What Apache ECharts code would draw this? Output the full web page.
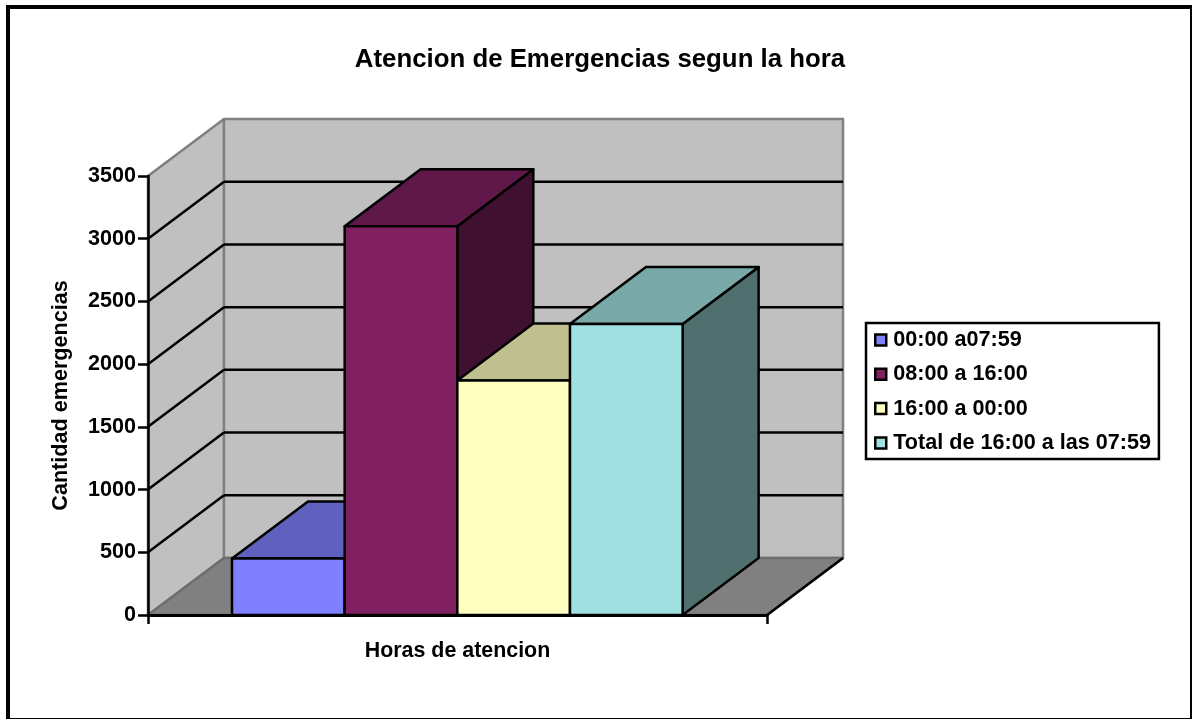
<!DOCTYPE html>
<html>
<head>
<meta charset="utf-8">
<title>Atencion de Emergencias segun la hora</title>
<style>
  html, body { margin: 0; padding: 0; background: #fff; }
  #app { width: 1192px; height: 719px; }
</style>
<script src="https://cdn.jsdelivr.net/npm/echarts@6/dist/echarts.min.js"></script>
</head>
<body>
<div id="app"></div>
<script>
const categorias = [""];
const franjas = ["00:00 a07:59", "08:00 a 16:00", "16:00 a 00:00", "Total de 16:00 a las 07:59"];
const cantidades = [450, 3100, 1870, 2320];
const colores = ["#8080ff", "#802060", "#ffffc0", "#a0e0e0"];
const marcasY = [0, 500, 1000, 1500, 2000, 2500, 3000, 3500];

const FUENTE = '"Liberation Sans", Arial, sans-serif';
// Fake 3D: how far the back plane sits from the front plane, in pixels
const FONDO_X = 76;
const FONDO_Y = -57;
const HUECO = 0.1357; // gap at each side of the band
const ANCHO_BARRA = 0.182;
const TRAZO = 2.5;

function sombra(hex, factor) {
  const n = parseInt(hex.slice(1), 16);
  const c = [n >> 16, (n >> 8) & 255, n & 255].map(v => Math.round(v * factor));
  return `rgb(${c[0]},${c[1]},${c[2]})`;
}

function poligono(points, fill, stroke, lineWidth) {
  return {
    type: "polygon",
    shape: { points },
    style: { fill, stroke, lineWidth, lineJoin: "round" }
  };
}

function linea(a, b, stroke, lineWidth) {
  return {
    type: "line",
    shape: { x1: a[0], y1: a[1], x2: b[0], y2: b[1] },
    style: { stroke, lineWidth }
  };
}

function atras(p) {
  return [p[0] + FONDO_X, p[1] + FONDO_Y];
}

// Side wall, back wall, floor and the gridlines, all from the axis scale
function dibujarParedes(params, api) {
  const caja = params.coordSys;
  const x0 = caja.x;
  const x1 = caja.x + caja.width;
  const y0 = api.coord([0, 0])[1];
  const yTop = api.coord([0, marcasY[marcasY.length - 1]])[1];
  const gris = "#808080";
  const piezas = [
    poligono([[x0, y0], [x0, yTop], atras([x0, yTop]), atras([x0, y0])], "#c0c0c0", gris, TRAZO),
    poligono([atras([x0, y0]), atras([x0, yTop]), atras([x1, yTop]), atras([x1, y0])], "#c0c0c0", gris, TRAZO),
    poligono([[x0, y0], atras([x0, y0]), atras([x1, y0]), [x1, y0]], gris, "#6e6e6e", TRAZO),
    linea([x1, y0], atras([x1, y0]), "#000", TRAZO)
  ];
  marcasY.slice(1, -1).forEach(m => {
    const y = api.coord([0, m])[1];
    piezas.push(linea([x0, y], atras([x0, y]), "#000", TRAZO));
    piezas.push(linea(atras([x0, y]), atras([x1, y]), "#000", TRAZO));
  });
  return { type: "group", children: piezas };
}

function dibujarBarra(indice) {
  return function (params, api) {
    const caja = params.coordSys;
    const ancho = caja.width * ANCHO_BARRA;
    const xa = caja.x + caja.width * HUECO + ancho * indice;
    const xb = xa + ancho;
    const y0 = api.coord([0, 0])[1];
    const yv = api.coord([0, api.value(1)])[1];
    const color = colores[indice];
    return {
      type: "group",
      children: [
        poligono([[xb, y0], [xb, yv], atras([xb, yv]), atras([xb, y0])], sombra(color, 0.5), "#000", TRAZO),
        poligono([[xa, yv], [xb, yv], atras([xb, yv]), atras([xa, yv])], sombra(color, 0.75), "#000", TRAZO),
        poligono([[xa, y0], [xa, yv], [xb, yv], [xb, y0]], color, "#000", TRAZO)
      ]
    };
  };
}

const series = [
  {
    type: "custom",
    name: "paredes",
    silent: true,
    z: 1,
    renderItem: dibujarParedes,
    data: [[0, 0]]
  }
].concat(franjas.map((nombre, i) => ({
  type: "custom",
  name: nombre,
  z: 2 + i,
  itemStyle: { color: colores[i] },
  renderItem: dibujarBarra(i),
  encode: { x: 0, y: 1 },
  data: [[0, cantidades[i]]]
})));

const chart = echarts.init(document.getElementById("app"));
chart.setOption({
  backgroundColor: "#fff",
  animation: false,
  textStyle: { fontFamily: FUENTE },
  title: {
    text: "Atencion de Emergencias segun la hora",
    left: 595,
    top: 42,
    textAlign: "center",
    textStyle: { fontFamily: FUENTE, fontSize: 25.8, fontWeight: "bold", color: "#000" }
  },
  legend: {
    orient: "vertical",
    left: 866,
    top: 323,
    padding: [6, 8, 5, 8],
    itemGap: 12.3,
    itemWidth: 11,
    itemHeight: 11,
    icon: "rect",
    selectedMode: false,
    data: franjas,
    backgroundColor: "#fff",
    borderColor: "#000",
    borderWidth: 2.5,
    itemStyle: { borderColor: "#000", borderWidth: 2.5 },
    textStyle: { fontFamily: FUENTE, fontSize: 21.6, fontWeight: "bold", color: "#000", padding: [0, 0, 0, 2] }
  },
  grid: { left: 148, right: 425, top: 176, bottom: 104, containLabel: false },
  xAxis: {
    type: "category",
    data: categorias,
    z: 20,
    name: "Horas de atencion",
    nameLocation: "middle",
    nameGap: 26,
    nameTextStyle: { fontFamily: FUENTE, fontSize: 21.4, fontWeight: "bold", color: "#000" },
    axisLine: { lineStyle: { color: "#000", width: 3 } },
    axisTick: { show: true, length: 9, lineStyle: { color: "#000", width: 2.5 } },
    axisLabel: { show: false },
    splitLine: { show: false }
  },
  yAxis: {
    type: "value",
    min: 0,
    max: 3500,
    interval: 500,
    z: 20,
    name: "Cantidad emergencias",
    nameLocation: "middle",
    nameGap: 76,
    nameTextStyle: { fontFamily: FUENTE, fontSize: 21.6, fontWeight: "bold", color: "#000" },
    axisLine: { show: true, lineStyle: { color: "#000", width: 2.5 } },
    axisTick: { show: true, length: 10, lineStyle: { color: "#000", width: 2.5 } },
    axisLabel: {
      margin: 12,
      fontFamily: FUENTE,
      fontSize: 21.6,
      fontWeight: "bold",
      color: "#000",
      formatter: value => String(value)
    },
    splitLine: { show: false }
  },
  graphic: [
    {
      type: "rect",
      silent: true,
      z: 100,
      shape: { x: 8, y: 7, width: 1184, height: 713 },
      style: { fill: "none", stroke: "#000", lineWidth: 4 }
    }
  ],
  series
});

window.onresize = function () {
  chart.resize();
};
</script>
</body>
</html>
